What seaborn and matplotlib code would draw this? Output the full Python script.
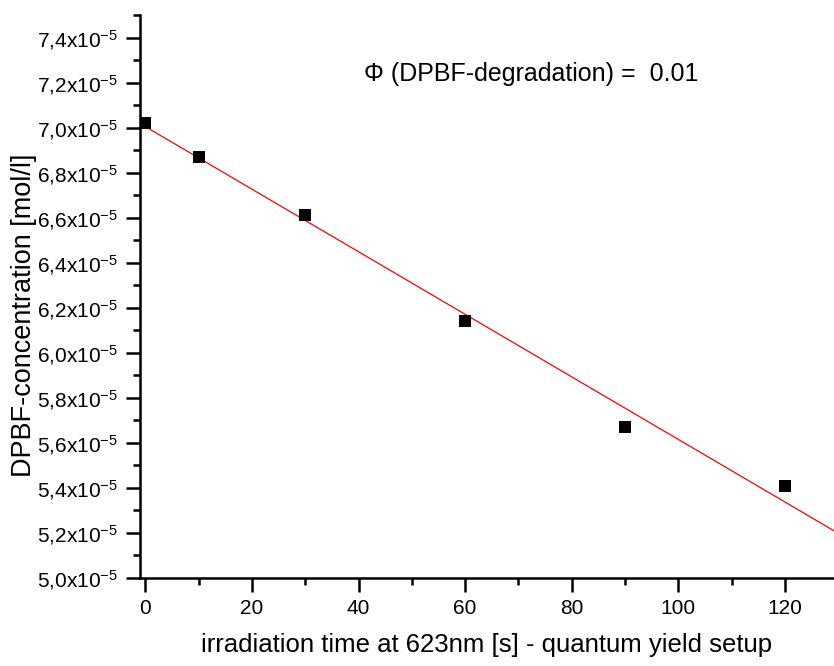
import numpy as np
import pandas as pd
import matplotlib
matplotlib.use("Agg")
import matplotlib.pyplot as plt
from matplotlib.ticker import MultipleLocator, FixedLocator, FixedFormatter
import seaborn as sns

# ---- data ----
time_s = [0, 10, 30, 60, 90, 120]
conc_e5 = [7.02, 6.87, 6.61, 6.14, 5.67, 5.41]   # in units of 1e-5 mol/l
ytick_e5 = [5.0, 5.2, 5.4, 5.6, 5.8, 6.0, 6.2, 6.4, 6.6, 6.8, 7.0, 7.2, 7.4]
xticks = [0, 20, 40, 60, 80, 100, 120]
annot = "\u03a6 (DPBF-degradation) =  0.01"
xlabel = "irradiation time at 623nm [s] - quantum yield setup"
ylabel = "DPBF-concentration [mol/l]"

df = pd.DataFrame({"t": time_s, "c": np.array(conc_e5) * 1e-5})

# linear fit
slope, intercept = np.polyfit(df["t"], df["c"], 1)
fit_x = np.array([0.0, 131.0])
fit_df = pd.DataFrame({"t": fit_x, "c": intercept + slope * fit_x})

sns.set_style("ticks")
plt.rcParams["font.family"] = ["Liberation Sans", "DejaVu Sans"]
plt.rcParams["mathtext.default"] = "regular"
plt.rcParams["text.color"] = "black"
plt.rcParams["axes.labelcolor"] = "black"

fig = plt.figure(figsize=(8.34, 6.66), dpi=100)
ax = fig.add_axes([140 / 834, 88 / 666, (834 - 140) / 834, (578 - 15) / 666])

sns.lineplot(data=fit_df, x="t", y="c", color="#ff0000", lw=0.9, ax=ax, zorder=2)
sns.scatterplot(data=df, x="t", y="c", marker="s", s=70, color="black",
                edgecolor="black", linewidth=0, ax=ax, zorder=3)

ax.set_xlim(-1, 129.2)
ax.set_ylim(5.0e-5, 7.5e-5)

ax.xaxis.set_major_locator(FixedLocator(xticks))
ax.xaxis.set_minor_locator(MultipleLocator(10))
yt = [v * 1e-5 for v in ytick_e5]
ax.yaxis.set_major_locator(FixedLocator(yt))
ax.yaxis.set_major_formatter(FixedFormatter(
    [f"{v:.1f}".replace(".", ",") + "x10$^{-5}$" for v in ytick_e5]))
ax.yaxis.set_minor_locator(MultipleLocator(0.1e-5))

for s in ["top", "right"]:
    ax.spines[s].set_visible(False)
for s in ["left", "bottom"]:
    ax.spines[s].set_linewidth(1.8)
    ax.spines[s].set_color("black")

ax.tick_params(which="major", direction="out", length=10, width=1.8,
               labelsize=15, colors="black", labelcolor="black")
ax.tick_params(axis="y", which="major", pad=6)
ax.tick_params(axis="x", which="major", pad=5)
ax.tick_params(which="minor", direction="out", length=5, width=1.8, colors="black")

ax.set_xlabel(xlabel, fontsize=18.5, color="black")
ax.set_ylabel(ylabel, fontsize=19.5, color="black")
ax.yaxis.label.set(va="center", ha="center", rotation_mode="default")
ax.xaxis.set_label_coords((487 - 140) / 694, -55 / 563)
ax.yaxis.set_label_coords((24 - 140) / 694, (578 - 315) / 563)

ax.text(41, 7.24e-5, annot, fontsize=18, ha="left", va="center", color="black")

fig.savefig("out.png", dpi=100)
